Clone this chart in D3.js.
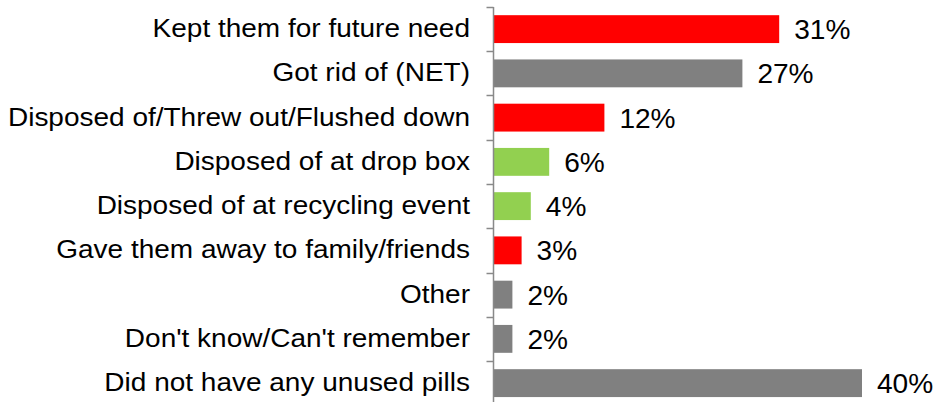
<!DOCTYPE html>
<html>
<head>
<meta charset="utf-8">
<script src="https://cdn.jsdelivr.net/npm/d3@7"></script>
<style>
  body { margin: 0; background: #fff; }
  text { font-family: "Liberation Sans", Arial, sans-serif; fill: #000; }
</style>
</head>
<body>
<div id="chart"></div>
<script>
// ----------------------
// Data
// ----------------------
const categories = [
    "Kept them for future need",
    "Got rid of (NET)",
    "Disposed of/Threw out/Flushed down",
    "Disposed of at drop box",
    "Disposed of at recycling event",
    "Gave them away to family/friends",
    "Other",
    "Don't know/Can't remember",
    "Did not have any unused pills"
];
const values = [31, 27, 12, 6, 4, 3, 2, 2, 40];
const groups = ["kept", "net", "kept", "proper", "proper", "kept", "net", "net", "net"];

const colorByGroup = { kept: "#FF0000", net: "#808080", proper: "#92D050" };

// ----------------------
// Setup
// ----------------------
const width = 940, height = 402;
const axisX = 493.5;

const svg = d3.select("#chart")
    .append("svg")
    .attr("width", width)
    .attr("height", height);

const y = d3.scaleBand()
    .domain(categories)
    .range([7, 7 + 9 * 44.25])
    .paddingInner(0.37)
    .paddingOuter(0.185);

const x = d3.scaleLinear()
    .domain([0, 40])
    .range([axisX + 0.5, 862]);

// Bars
svg.selectAll("rect.bar")
    .data(categories)
    .enter()
    .append("rect")
    .attr("class", "bar")
    .attr("x", x(0))
    .attr("y", d => y(d))
    .attr("width", (d, i) => x(values[i]) - x(0))
    .attr("height", y.bandwidth())
    .attr("fill", (d, i) => colorByGroup[groups[i]]);

// Value labels
svg.selectAll("text.val")
    .data(categories)
    .enter()
    .append("text")
    .attr("class", "val")
    .attr("transform", (d, i) =>
        `translate(${x(values[i]) + 15}, ${y(d) + y.bandwidth() / 2 + 10}) scale(1.04,1)`)
    .style("font-size", "27px")
    .text((d, i) => values[i] + "%");

// Category labels (slightly stretched horizontally like the source)
svg.selectAll("text.cat")
    .data(categories)
    .enter()
    .append("text")
    .attr("class", "cat")
    .attr("text-anchor", "end")
    .attr("transform", d =>
        `translate(470, ${y(d) + y.bandwidth() / 2 + 8}) scale(1.12,1)`)
    .style("font-size", "25px")
    .text(d => d);

// Axis line and ticks at category boundaries
const edge = y.step() * y.paddingOuter();
const tickYs = categories.map(d => y(d) - edge);

svg.append("line")
    .attr("x1", axisX).attr("x2", axisX)
    .attr("y1", tickYs[0]).attr("y2", height)
    .attr("stroke", "#898989")
    .attr("stroke-width", 1.5);

svg.selectAll("line.tick")
    .data(tickYs)
    .enter()
    .append("line")
    .attr("class", "tick")
    .attr("x1", axisX - 7).attr("x2", axisX)
    .attr("y1", d => Math.round(d) + 0.5)
    .attr("y2", d => Math.round(d) + 0.5)
    .attr("stroke", "#898989")
    .attr("stroke-width", 1.5);
</script>
</body>
</html>
